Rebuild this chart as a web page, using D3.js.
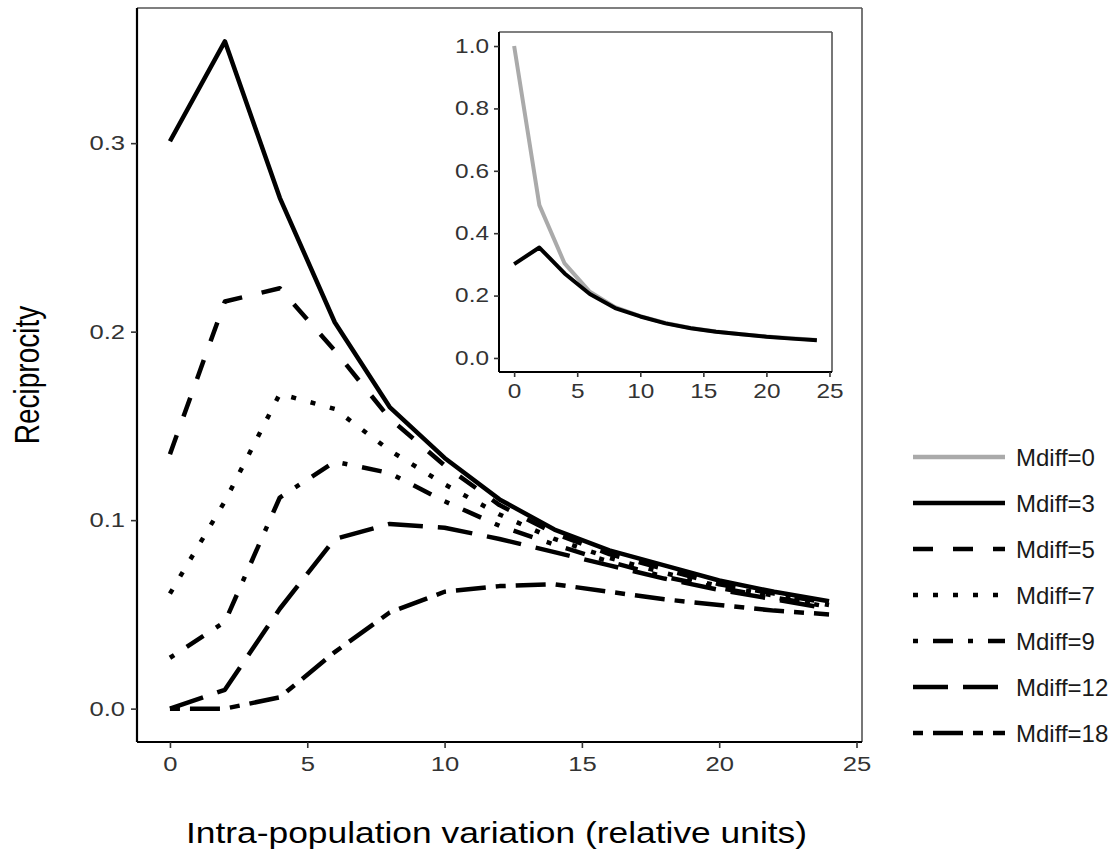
<!DOCTYPE html>
<html>
<head>
<meta charset="utf-8">
<script src="https://cdn.jsdelivr.net/npm/d3@7"></script>
<style>
  html, body { margin: 0; padding: 0; background: #fff; }
  svg { display: block; font-family: "Liberation Sans", Arial, sans-serif; }
</style>
</head>
<body>
<svg id="chart" width="1118" height="861"></svg>
<script>
// ---------- data ----------
const xValues = [0, 2, 4, 6, 8, 10, 12, 14, 16, 18, 20, 22, 24];
const mdiff0  = [1.000, 0.490, 0.303, 0.212, 0.163, 0.134, 0.112, 0.096, 0.085, 0.076, 0.069, 0.063, 0.058];
const mdiff3  = [0.301, 0.354, 0.271, 0.205, 0.160, 0.133, 0.111, 0.095, 0.084, 0.076, 0.068, 0.062, 0.057];
const mdiff5  = [0.135, 0.216, 0.223, 0.190, 0.154, 0.129, 0.108, 0.093, 0.082, 0.074, 0.066, 0.061, 0.056];
const mdiff7  = [0.061, 0.110, 0.167, 0.159, 0.137, 0.119, 0.103, 0.090, 0.080, 0.072, 0.065, 0.060, 0.055];
const mdiff9  = [0.027, 0.046, 0.112, 0.131, 0.125, 0.110, 0.097, 0.087, 0.078, 0.070, 0.064, 0.059, 0.054];
const mdiff12 = [0.000, 0.010, 0.053, 0.090, 0.098, 0.096, 0.090, 0.083, 0.076, 0.069, 0.063, 0.058, 0.053];
const mdiff18 = [0.000, 0.000, 0.006, 0.030, 0.051, 0.062, 0.065, 0.066, 0.062, 0.058, 0.055, 0.052, 0.050];

const seriesNames = ["Mdiff=0", "Mdiff=3", "Mdiff=5", "Mdiff=7", "Mdiff=9", "Mdiff=12", "Mdiff=18"];
const seriesValues = [mdiff0, mdiff3, mdiff5, mdiff7, mdiff9, mdiff12, mdiff18];
// R line types: solid, solid, "44", "13", "1343", "73", "2262"
const seriesLty = ["", "", "44", "13", "1343", "73", "2262"];
const seriesColor = ["#aaaaaa", "#000", "#000", "#000", "#000", "#000", "#000"];

const mainXTicks = [0, 5, 10, 15, 20, 25];
const mainYTicks = [0.0, 0.1, 0.2, 0.3];
const insetXTicks = [0, 5, 10, 15, 20, 25];
const insetYTicks = [0.0, 0.2, 0.4, 0.6, 0.8, 1.0];

const xTitle = "Intra-population variation (relative units)";
const yTitle = "Reciprocity";

// ---------- helpers ----------
const LW = 4.5, UNIT = 5;
const SX = 1.22; // horizontal stretch of the original picture's text
function dash(lty) {
  if (!lty) return null;
  return lty.split("").map(c => (+c) * UNIT).join(",");
}
const svg = d3.select("#chart");
const tickColor = "#333";

function styleAxis(g, isX, fontPx, tickLen, pad) {
  g.selectAll(".tick line").attr("stroke", "#333").attr("stroke-width", 1.6);
  const t = g.selectAll(".tick text").attr("fill", tickColor).style("font-size", fontPx + "px")
    .style("font-family", "'Liberation Sans', Arial, sans-serif");
  if (isX) {
    t.attr("dy", "0.75em").attr("transform", `scale(${SX},1)`);
  } else {
    t.attr("x", -(tickLen + pad) / SX).attr("transform", `scale(${SX},1)`);
  }
}

// ---------- main panel ----------
const P = { l: 137, t: 8, r: 862, b: 742 };
const xMin = d3.min(xValues), xMax = d3.max(xValues);
const xPad = (xMax - xMin) * 0.05;
const x = d3.scaleLinear().domain([xMin - xPad, xMax + xPad]).range([P.l, P.r]);
const yMaxMain = d3.max(seriesValues.slice(1).flat());
const yPadMain = yMaxMain * 0.05;
const y = d3.scaleLinear().domain([0 - yPadMain, yMaxMain + yPadMain]).range([P.b, P.t]);

const gMain = svg.append("g");
const lineMain = d3.line().x((d, i) => x(xValues[i])).y(d => y(d));
seriesValues.forEach((vals, k) => {
  if (k === 0) return;
  gMain.append("path")
    .attr("d", lineMain(vals))
    .attr("fill", "none")
    .attr("stroke", seriesColor[k])
    .attr("stroke-width", LW)
    .attr("stroke-linejoin", "round")
    .attr("stroke-linecap", "butt")
    .attr("stroke-dasharray", dash(seriesLty[k]));
});

gMain.append("line").attr("x1", P.l).attr("x2", P.r).attr("y1", P.t).attr("y2", P.t)
  .attr("stroke", "#555").attr("stroke-width", 1.6);
gMain.append("line").attr("x1", P.r).attr("x2", P.r).attr("y1", P.t).attr("y2", P.b)
  .attr("stroke", "#555").attr("stroke-width", 1.6);

const gx = svg.append("g").attr("transform", `translate(0,${P.b})`)
  .call(d3.axisBottom(x).tickValues(mainXTicks).tickSize(6).tickSizeOuter(0).tickPadding(7).tickFormat(d3.format("d")));
const gy = svg.append("g").attr("transform", `translate(${P.l},0)`)
  .call(d3.axisLeft(y).tickValues(mainYTicks).tickSize(6).tickSizeOuter(0).tickPadding(6).tickFormat(d3.format(".1f")));
[gx, gy].forEach(g => g.select(".domain").attr("stroke", "#000").attr("stroke-width", 2.2));
gx.select(".domain").attr("d", `M${P.l},0H${P.r}`);
gy.select(".domain").attr("d", `M0,${P.t}V${P.b}`);
styleAxis(gx, true, 21, 6, 7);
styleAxis(gy, false, 21, 6, 6);

// titles
svg.append("text").attr("transform", `translate(${(P.l + P.r) / 2 - 3},843) scale(${SX},1)`)
  .attr("text-anchor", "middle").style("font-size", "29px").attr("fill", "#000").text(xTitle);
svg.append("text").attr("transform", `translate(39,${(P.t + P.b) / 2}) scale(${SX},1) rotate(-90)`)
  .attr("text-anchor", "middle").style("font-size", "28px").attr("fill", "#000").text(yTitle);

// ---------- inset ----------
const I = { l: 499, t: 32, r: 832, b: 372 };
const xi = d3.scaleLinear().domain([xMin - xPad, xMax + xPad]).range([I.l, I.r]);
const yiPad = 0.045;
const yi = d3.scaleLinear().domain([0 - yiPad, 1 + yiPad]).range([I.b, I.t]);
const gIn = svg.append("g");
gIn.append("rect").attr("x", I.l).attr("y", I.t).attr("width", I.r - I.l).attr("height", I.b - I.t).attr("fill", "#fff");
const lineIn = d3.line().x((d, i) => xi(xValues[i])).y(d => yi(d));
[0, 1].forEach(k => {
  gIn.append("path").attr("d", lineIn(seriesValues[k]))
    .attr("fill", "none").attr("stroke", seriesColor[k]).attr("stroke-width", 4)
    .attr("stroke-linejoin", "round");
});
gIn.append("line").attr("x1", I.l).attr("x2", I.r).attr("y1", I.t).attr("y2", I.t)
  .attr("stroke", "#555").attr("stroke-width", 1.6);
gIn.append("line").attr("x1", I.r).attr("x2", I.r).attr("y1", I.t).attr("y2", I.b)
  .attr("stroke", "#555").attr("stroke-width", 1.6);
const gxi = gIn.append("g").attr("transform", `translate(0,${I.b})`)
  .call(d3.axisBottom(xi).tickValues(insetXTicks).tickSize(5).tickSizeOuter(0).tickPadding(6).tickFormat(d3.format("d")));
const gyi = gIn.append("g").attr("transform", `translate(${I.l},0)`)
  .call(d3.axisLeft(yi).tickValues(insetYTicks).tickSize(5).tickSizeOuter(0).tickPadding(5).tickFormat(d3.format(".1f")));
[gxi, gyi].forEach(g => g.select(".domain").attr("stroke", "#000").attr("stroke-width", 2));
gxi.select(".domain").attr("d", `M${I.l},0H${I.r}`);
gyi.select(".domain").attr("d", `M0,${I.t}V${I.b}`);
styleAxis(gxi, true, 20, 5, 6);
styleAxis(gyi, false, 20, 5, 5);

// ---------- legend ----------
const L = { x1: 913, x2: 1005, y0: 457, dy: 46, tx: 1016 };
const gL = svg.append("g");
seriesNames.forEach((name, k) => {
  const yy = L.y0 + k * L.dy;
  gL.append("line").attr("x1", L.x1).attr("x2", L.x2).attr("y1", yy).attr("y2", yy)
    .attr("stroke", seriesColor[k]).attr("stroke-width", LW)
    .attr("stroke-dasharray", dash(seriesLty[k]));
  gL.append("text").attr("x", L.tx).attr("y", yy).attr("dy", "0.36em")
    .style("font-size", "24px").attr("fill", "#1a1a1a").text(name);
});
</script>
</body>
</html>
